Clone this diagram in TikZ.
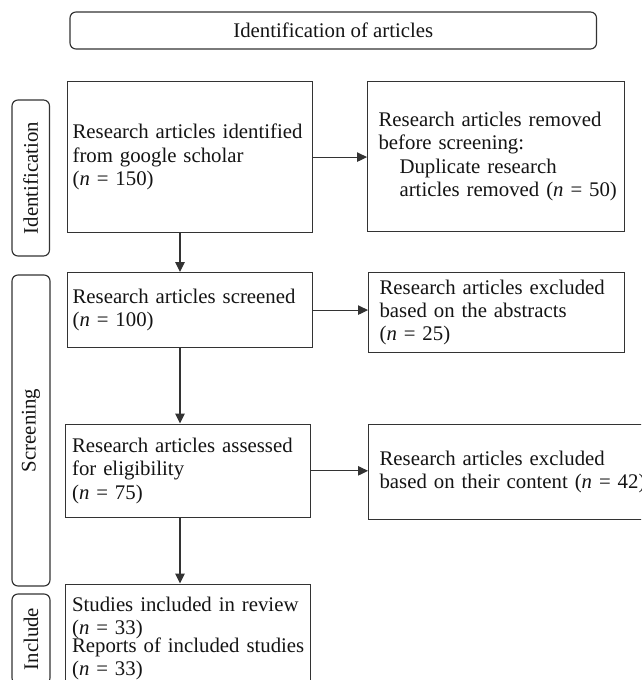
\documentclass[tikz,border=0pt]{standalone}
\usepackage{fontspec}
\usepackage{graphicx}
\setmainfont{Liberation Serif}
\usetikzlibrary{arrows.meta}
\newcommand{\oneline}[1]{\mbox{#1}}
\begin{document}
\begin{tikzpicture}[x=1pt,y=-1pt,
  lw/.style={line width=1.15pt, draw=black!80},
  txt/.style={font=\fontsize{20.8}{23.4}\selectfont, text=black!92},
  box/.style={lw, txt, rectangle, anchor=north west, align=left, inner ysep=0pt},
  rbox/.style={lw, txt, rectangle, rounded corners=6pt, inner sep=0pt},
  arr/.style={lw, -{Triangle[length=10pt,width=9.5pt]}}]
\clip (0,0) rectangle (641,680);
\fill[white] (0,0) rectangle (641,680);

\node[rbox, minimum width=526.5pt, minimum height=37pt] (T) at (333.25,30.5) {Identification of articles};

\node[box, minimum width=245pt, minimum height=151pt, text width=234pt, inner xsep=5.5pt] (A) at (66.5,81)
  {\oneline{Research articles identified}\\ \oneline{from google scholar}\\ (\textit{n} = 150)};
\node[box, minimum width=257pt, minimum height=150pt, text width=235pt, inner xsep=11pt] (B) at (367,81)
  {\oneline{Research articles removed}\\ \oneline{before screening:}\\ \oneline{\hspace*{21pt}Duplicate research}\\ \oneline{\hspace*{21pt}articles removed (\textit{n} = 50)}};
\node[box, minimum width=245pt, minimum height=75pt, text width=234pt, inner xsep=5.5pt] (C) at (66.5,272)
  {\oneline{Research articles screened}\\ (\textit{n} = 100)};
\node[box, minimum width=256pt, minimum height=80pt, text width=234pt, inner xsep=11pt] (D) at (368,272)
  {\oneline{Research articles excluded}\\ \oneline{based on the abstracts}\\ (\textit{n} = 25)};
\node[box, minimum width=245pt, minimum height=93.5pt, text width=232pt, inner xsep=6.5pt] (E) at (65,423.5)
  {\oneline{Research articles assessed}\\ \oneline{for eligibility}\\ (\textit{n} = 75)};
\node[box, minimum width=290pt, minimum height=95pt, text width=268pt, inner xsep=11pt] (F) at (368,424)
  {\oneline{Research articles excluded}\\ \oneline{based on their content (\textit{n} = 42)}};
\node[box, minimum width=244.5pt, text width=231.5pt, inner xsep=6.5pt, inner ysep=12.5pt] (G) at (65,583.5)
  {\oneline{Studies included in review}\\ (\textit{n} = 33)\\[-5.5pt] \oneline{Reports of included studies}\\ (\textit{n} = 33)};

\node[rbox, minimum width=37.5pt, minimum height=156pt] (S1) at (30.75,178) {\rotatebox{90}{Identification}};
\node[rbox, minimum width=38pt, minimum height=311pt] (S2) at (31,430.5) {\rotatebox{90}{Screening}};
\node[rbox, minimum width=38pt, minimum height=90pt] (S3) at (31,639) {\rotatebox{90}{Include}};

\coordinate (vx) at (180,0);
\draw[arr] (A.south -| vx) -- (C.north -| vx);
\draw[arr] (C.south -| vx) -- (E.north -| vx);
\draw[arr] (E.south -| vx) -- (G.north -| vx);
\draw[arr] (A.east) -- (A.east -| B.west);
\draw[arr] (C.east) -- (C.east -| D.west);
\draw[arr] (E.east) -- (E.east -| F.west);
\end{tikzpicture}
\end{document}
